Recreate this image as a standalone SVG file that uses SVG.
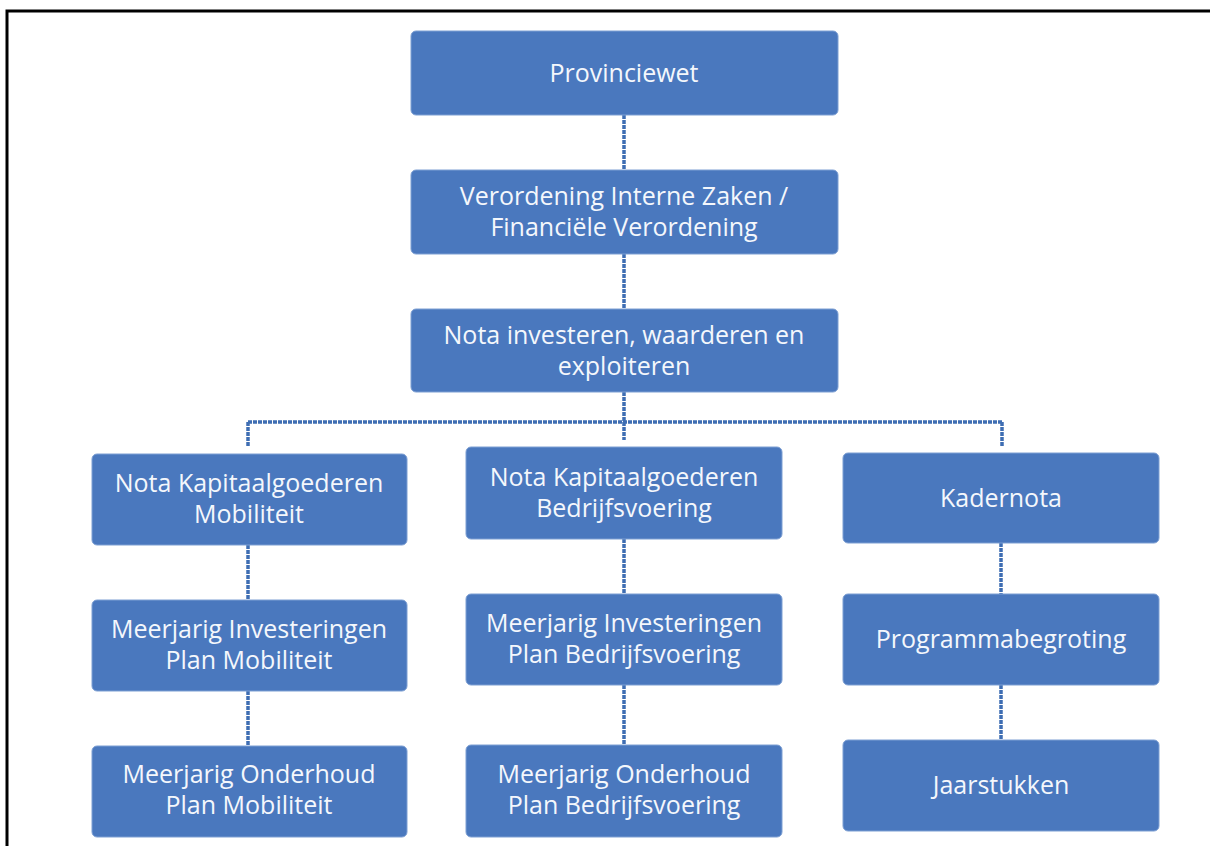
<svg xmlns="http://www.w3.org/2000/svg" width="1210" height="846" viewBox="0 0 1210 846">
<style>
.box{fill:#4a78be;stroke:#7d9fd3;stroke-width:1}
.t{font-family:"Open Sans","Liberation Sans",sans-serif;font-size:25px;fill:#f4f7fc;text-anchor:middle;dominant-baseline:central}
.c{stroke:#3e6db3;stroke-width:3.5;fill:none;stroke-dasharray:4 1}
</style>
<rect x="0" y="0" width="1210" height="846" fill="#ffffff"/>
<path d="M7 846 V11 H1210" stroke="#000" stroke-width="3" fill="none"/>
<g id="connectors">
<path class="c" d="M624 115 V170"/>
<path class="c" d="M624 254 V309"/>
<path class="c" d="M624 392 V440"/>
<path class="c" d="M248 422 H1002"/>
<path class="c" d="M248 422 V447"/>
<path class="c" d="M1002 422 V447"/>
<path class="c" d="M248 545 V600"/>
<path class="c" d="M248 691 V746"/>
<path class="c" d="M624 539 V594"/>
<path class="c" d="M624 685 V745"/>
<path class="c" d="M1001 543 V594"/>
<path class="c" d="M1001 685 V740"/>
</g>
<g id="n1"><rect class="box" x="411" y="31" width="427" height="84" rx="5"/><text class="t" x="624" y="72">Provinciewet</text></g>
<g id="n2"><rect class="box" x="411" y="170" width="427" height="84" rx="5"/><text class="t" x="624" y="195">Verordening Interne Zaken /</text><text class="t" x="624" y="226">Financiële Verordening</text></g>
<g id="n3"><rect class="box" x="411" y="309" width="427" height="83" rx="5"/><text class="t" x="624" y="334">Nota investeren, waarderen en</text><text class="t" x="624" y="365">exploiteren</text></g>
<g id="n4"><rect class="box" x="92" y="454" width="315" height="91" rx="5"/><text class="t" x="249" y="482">Nota Kapitaalgoederen</text><text class="t" x="249" y="513">Mobiliteit</text></g>
<g id="n5"><rect class="box" x="466" y="447" width="316" height="92" rx="5"/><text class="t" x="624" y="476">Nota Kapitaalgoederen</text><text class="t" x="624" y="507">Bedrijfsvoering</text></g>
<g id="n6"><rect class="box" x="843" y="453" width="316" height="90" rx="5"/><text class="t" x="1001" y="497">Kadernota</text></g>
<g id="n7"><rect class="box" x="92" y="600" width="315" height="91" rx="5"/><text class="t" x="249" y="628">Meerjarig Investeringen</text><text class="t" x="249" y="659">Plan Mobiliteit</text></g>
<g id="n8"><rect class="box" x="466" y="594" width="316" height="91" rx="5"/><text class="t" x="624" y="622">Meerjarig Investeringen</text><text class="t" x="624" y="653">Plan Bedrijfsvoering</text></g>
<g id="n9"><rect class="box" x="843" y="594" width="316" height="91" rx="5"/><text class="t" x="1001" y="638">Programmabegroting</text></g>
<g id="n10"><rect class="box" x="92" y="746" width="315" height="91" rx="5"/><text class="t" x="249" y="773">Meerjarig Onderhoud</text><text class="t" x="249" y="804">Plan Mobiliteit</text></g>
<g id="n11"><rect class="box" x="466" y="745" width="316" height="92" rx="5"/><text class="t" x="624" y="773">Meerjarig Onderhoud</text><text class="t" x="624" y="804">Plan Bedrijfsvoering</text></g>
<g id="n12"><rect class="box" x="843" y="740" width="316" height="91" rx="5"/><text class="t" x="1001" y="784">Jaarstukken</text></g>
</svg>
